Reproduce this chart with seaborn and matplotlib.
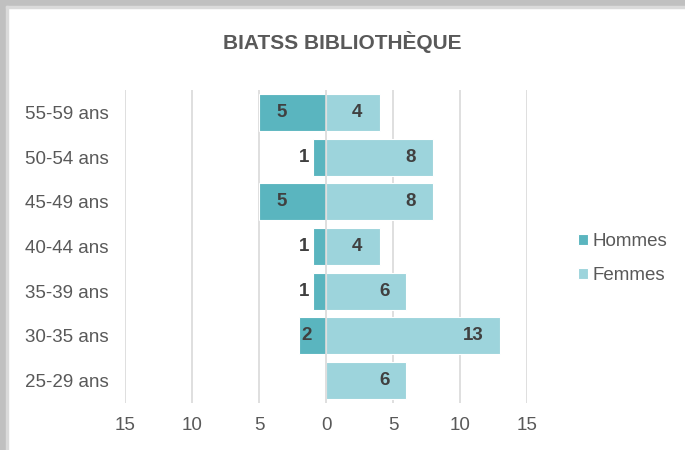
import matplotlib
matplotlib.use("Agg")
import matplotlib.pyplot as plt
from matplotlib.patches import Rectangle
import pandas as pd
import seaborn as sns

# Data
ages = ["55-59 ans", "50-54 ans", "45-49 ans", "40-44 ans", "35-39 ans", "30-35 ans", "25-29 ans"]
hommes = [5, 1, 5, 1, 1, 2, 0]
femmes = [4, 8, 8, 4, 6, 13, 6]
ticks = [-15, -10, -5, 0, 5, 10, 15]

col_h = "#5ab5bf"
col_f = "#9dd4dc"
txt = "#595959"
lbl = "#404040"

# long form table, men on the negative side
df = pd.DataFrame({
    "age": ages * 2,
    "val": [-v for v in hommes] + femmes,
    "sexe": ["Hommes"] * len(ages) + ["Femmes"] * len(ages),
})

sns.set_style("white")
plt.rcParams["font.family"] = ["Liberation Sans", "DejaVu Sans"]

fig = plt.figure(figsize=(6.85, 4.5), dpi=100)
ax = fig.add_axes([125 / 685, 1 - 403 / 450, 402 / 685, 313 / 450])

sns.barplot(data=df, y="age", x="val", hue="sexe", order=ages,
            palette={"Hommes": col_h, "Femmes": col_f}, dodge=False, saturation=1,
            width=0.83, edgecolor="white", linewidth=0.8, ax=ax, zorder=2)

ax.set_xlim(-15, 15)
ax.set_xticks(ticks)
ax.set_xticklabels([str(abs(t)) for t in ticks])
for t in ticks:
    if t != 0:
        ax.axvline(t, color="#d9d9d9", lw=1.2, zorder=0)
ax.axvline(0, color="#d9d9d9", lw=1.2, zorder=3)

for s in ax.spines.values():
    s.set_visible(False)
ax.set_xlabel("")
ax.set_ylabel("")
ax.tick_params(axis="x", length=0, pad=10, labelsize=13.5, labelcolor=txt)
ax.tick_params(axis="y", length=0, pad=12, labelsize=13.5, labelcolor=txt)

# value labels, Excel-like "inside end"
for i, (h, f) in enumerate(zip(hommes, femmes)):
    if h >= 3:
        ax.annotate(str(h), (-h, i), xytext=(17, 0), textcoords="offset pixels",
                    ha="left", va="center", fontsize=13.5, fontweight="bold", color=lbl)
    elif h == 2:
        ax.annotate(str(h), (-h, i), xytext=(2, 0), textcoords="offset pixels",
                    ha="left", va="center", fontsize=13.5, fontweight="bold", color=lbl)
    elif h == 1:
        ax.annotate(str(h), (-h, i), xytext=(-3, 0), textcoords="offset pixels",
                    ha="right", va="center", fontsize=13.5, fontweight="bold", color=lbl)
    if f > 0:
        ax.annotate(str(f), (f, i), xytext=(-17, 0), textcoords="offset pixels",
                    ha="right", va="center", fontsize=13.5, fontweight="bold", color=lbl)

leg = ax.legend(loc="upper left", bbox_to_anchor=(578 / 685, 1 - 233 / 450),
                bbox_transform=fig.transFigure, frameon=False, fontsize=13.5,
                handlelength=0.55, handleheight=0.55, handletextpad=0.2,
                labelspacing=0.9, borderpad=0, borderaxespad=0)
for t in leg.get_texts():
    t.set_color(txt)

fig.text(0.5, 1 - 42 / 450, "BIATSS BIBLIOTHÈQUE", ha="center", va="center",
         fontsize=15, fontweight="bold", color=txt)

# grey frame on the left and top edges
fig.patches.append(Rectangle((0, 0), 6 / 685, 1, transform=fig.transFigure,
                             color="#c0c0c0", zorder=-1))
fig.patches.append(Rectangle((0, 1 - 6 / 450), 1, 6 / 450, transform=fig.transFigure,
                             color="#c0c0c0", zorder=-1))
fig.patches.append(Rectangle((6 / 685, 0), 2 / 685, 1 - 6 / 450, transform=fig.transFigure,
                             color="#dadada", zorder=-1))
fig.patches.append(Rectangle((6 / 685, 1 - 8 / 450), 1, 2 / 450, transform=fig.transFigure,
                             color="#dadada", zorder=-1))

fig.savefig("out.png", dpi=100)
